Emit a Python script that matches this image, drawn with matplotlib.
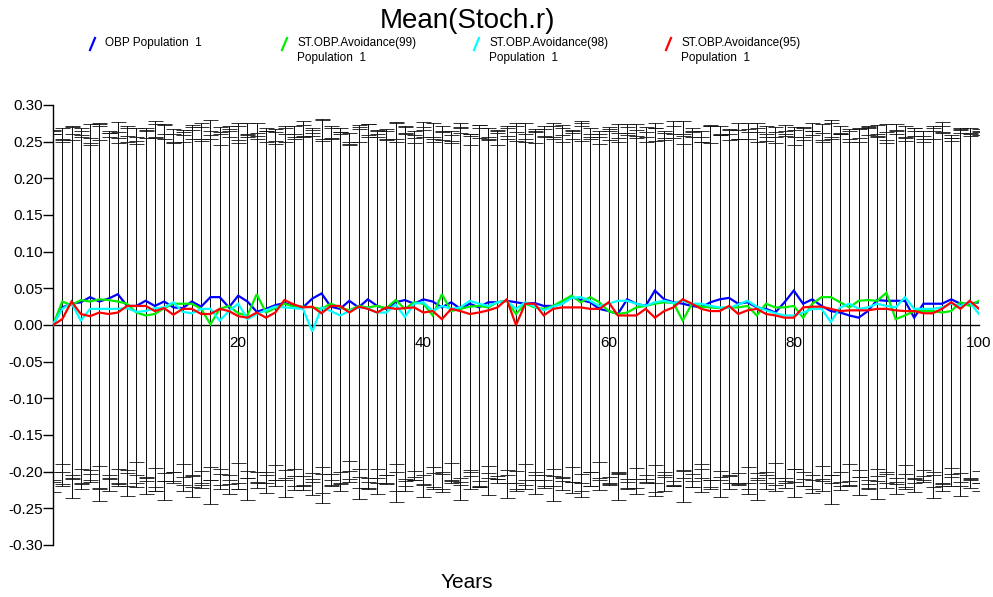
import numpy as np
import matplotlib
matplotlib.use("Agg")
import matplotlib.pyplot as plt
from matplotlib.lines import Line2D

plt.rcParams["font.family"] = ["Liberation Sans", "DejaVu Sans"]
plt.rcParams["axes.unicode_minus"] = False

years = np.arange(0, 101)

series_labels = ["OBP Population  1",
                 "ST.OBP.Avoidance(99)\nPopulation  1",
                 "ST.OBP.Avoidance(98)\nPopulation  1",
                 "ST.OBP.Avoidance(95)\nPopulation  1"]
series_colors = ["#0000ff", "#00ee00", "#00ffff", "#ff0000"]

# mean stochastic r per year
r_obp = [0.000, 0.024, 0.029, 0.031, 0.038, 0.032, 0.036, 0.042, 0.026, 0.026,
         0.033, 0.026, 0.032, 0.024, 0.023, 0.032, 0.025, 0.038, 0.038, 0.024,
         0.040, 0.032, 0.018, 0.022, 0.027, 0.030, 0.026, 0.024, 0.036, 0.043,
         0.025, 0.022, 0.033, 0.024, 0.035, 0.026, 0.022, 0.031, 0.034, 0.029,
         0.035, 0.032, 0.024, 0.031, 0.022, 0.029, 0.024, 0.031, 0.031, 0.033,
         0.031, 0.029, 0.030, 0.026, 0.026, 0.029, 0.038, 0.034, 0.031, 0.022,
         0.019, 0.015, 0.035, 0.029, 0.026, 0.047, 0.035, 0.031, 0.029, 0.026,
         0.024, 0.031, 0.035, 0.037, 0.029, 0.031, 0.024, 0.022, 0.017, 0.031,
         0.047, 0.029, 0.035, 0.026, 0.019, 0.017, 0.013, 0.010, 0.019, 0.034,
         0.033, 0.033, 0.033, 0.010, 0.029, 0.029, 0.029, 0.035, 0.029, 0.029,
         0.031]
r_av99 = [0.000, 0.032, 0.027, 0.034, 0.032, 0.035, 0.034, 0.032, 0.029, 0.017,
          0.013, 0.015, 0.023, 0.029, 0.029, 0.029, 0.022, 0.001, 0.022, 0.026,
          0.016, 0.013, 0.042, 0.017, 0.023, 0.029, 0.025, 0.025, 0.024, 0.022,
          0.029, 0.024, 0.020, 0.026, 0.024, 0.026, 0.023, 0.034, 0.022, 0.031,
          0.029, 0.013, 0.042, 0.019, 0.022, 0.025, 0.026, 0.024, 0.031, 0.033,
          0.015, 0.029, 0.024, 0.022, 0.026, 0.033, 0.040, 0.031, 0.038, 0.031,
          0.019, 0.015, 0.017, 0.024, 0.026, 0.029, 0.031, 0.030, 0.006, 0.029,
          0.025, 0.024, 0.023, 0.024, 0.024, 0.026, 0.013, 0.029, 0.024, 0.024,
          0.026, 0.010, 0.029, 0.038, 0.038, 0.031, 0.024, 0.033, 0.034, 0.033,
          0.044, 0.008, 0.013, 0.019, 0.019, 0.019, 0.017, 0.019, 0.031, 0.026,
          0.033]
r_av98 = [0.000, 0.022, 0.030, 0.006, 0.022, 0.022, 0.022, 0.022, 0.023, 0.018,
          0.019, 0.023, 0.024, 0.031, 0.018, 0.016, 0.022, 0.022, 0.006, 0.019,
          0.029, 0.008, 0.015, 0.020, 0.025, 0.024, 0.023, 0.022, -0.009, 0.024,
          0.019, 0.013, 0.019, 0.024, 0.023, 0.017, 0.017, 0.028, 0.011, 0.029,
          0.031, 0.019, 0.026, 0.022, 0.024, 0.033, 0.029, 0.026, 0.031, 0.033,
          0.022, 0.031, 0.025, 0.020, 0.025, 0.029, 0.037, 0.038, 0.033, 0.026,
          0.029, 0.033, 0.033, 0.029, 0.026, 0.031, 0.033, 0.030, 0.033, 0.029,
          0.029, 0.026, 0.024, 0.023, 0.028, 0.033, 0.025, 0.020, 0.016, 0.013,
          0.013, 0.017, 0.022, 0.022, 0.004, 0.024, 0.029, 0.022, 0.024, 0.029,
          0.026, 0.024, 0.038, 0.022, 0.022, 0.022, 0.024, 0.029, 0.026, 0.031,
          0.015]
r_av95 = [0.000, 0.008, 0.032, 0.015, 0.012, 0.017, 0.015, 0.017, 0.026, 0.026,
          0.026, 0.019, 0.023, 0.014, 0.022, 0.022, 0.015, 0.015, 0.022, 0.019,
          0.012, 0.010, 0.017, 0.010, 0.017, 0.034, 0.028, 0.024, 0.025, 0.016,
          0.026, 0.026, 0.017, 0.025, 0.022, 0.017, 0.024, 0.022, 0.023, 0.024,
          0.017, 0.019, 0.008, 0.022, 0.019, 0.015, 0.017, 0.020, 0.024, 0.035,
          0.000, 0.029, 0.029, 0.013, 0.022, 0.024, 0.024, 0.024, 0.022, 0.022,
          0.031, 0.013, 0.013, 0.013, 0.022, 0.010, 0.019, 0.024, 0.035, 0.029,
          0.022, 0.019, 0.019, 0.026, 0.015, 0.020, 0.022, 0.015, 0.013, 0.010,
          0.010, 0.024, 0.025, 0.025, 0.022, 0.019, 0.020, 0.020, 0.020, 0.022,
          0.022, 0.020, 0.019, 0.019, 0.016, 0.016, 0.022, 0.031, 0.022, 0.033,
          0.022]

# centre of the error bars (deterministic r) and the SD of r per year
r_det = [0.026, 0.030, 0.018, 0.024]

sd_obp = [0.240, 0.226, 0.234, 0.243, 0.229, 0.248, 0.236, 0.222, 0.245, 0.231,
          0.239, 0.252, 0.228, 0.241, 0.233, 0.247, 0.225, 0.238, 0.244, 0.230,
          0.249, 0.235, 0.227, 0.242, 0.237, 0.224, 0.246, 0.232, 0.240, 0.255,
          0.229, 0.243, 0.236, 0.223, 0.248, 0.234, 0.241, 0.227, 0.245, 0.238,
          0.231, 0.250, 0.226, 0.239, 0.244, 0.232, 0.247, 0.228, 0.236, 0.242,
          0.225, 0.249, 0.237, 0.230, 0.245, 0.233, 0.240, 0.252, 0.227, 0.238,
          0.244, 0.229, 0.236, 0.248, 0.231, 0.242, 0.226, 0.246, 0.235, 0.239,
          0.223, 0.247, 0.233, 0.241, 0.228, 0.250, 0.237, 0.230, 0.244, 0.234,
          0.240, 0.226, 0.249, 0.236, 0.231, 0.245, 0.239, 0.224, 0.243, 0.232,
          0.248, 0.235, 0.229, 0.242, 0.238, 0.227, 0.246, 0.233, 0.240, 0.236,
          0.241]
sd_av99 = [0.231, 0.219, 0.240, 0.226, 0.244, 0.222, 0.235, 0.247, 0.228, 0.217,
           0.238, 0.225, 0.243, 0.230, 0.220, 0.236, 0.246, 0.224, 0.233, 0.241,
           0.218, 0.229, 0.245, 0.234, 0.221, 0.239, 0.227, 0.248, 0.232, 0.223,
           0.242, 0.230, 0.216, 0.237, 0.244, 0.226, 0.235, 0.220, 0.240, 0.229,
           0.247, 0.224, 0.233, 0.218, 0.238, 0.231, 0.243, 0.222, 0.236, 0.228,
           0.245, 0.219, 0.234, 0.241, 0.227, 0.239, 0.223, 0.246, 0.230, 0.217,
           0.237, 0.232, 0.244, 0.225, 0.240, 0.221, 0.235, 0.248, 0.228, 0.233,
           0.220, 0.242, 0.229, 0.236, 0.245, 0.224, 0.238, 0.231, 0.218, 0.243,
           0.227, 0.240, 0.234, 0.222, 0.246, 0.230, 0.219, 0.237, 0.241, 0.226,
           0.233, 0.244, 0.221, 0.239, 0.228, 0.235, 0.247, 0.225, 0.232, 0.238,
           0.229]
sd_av98 = [0.246, 0.235, 0.254, 0.241, 0.230, 0.258, 0.244, 0.237, 0.251, 0.233,
           0.248, 0.239, 0.256, 0.231, 0.245, 0.252, 0.236, 0.262, 0.242, 0.249,
           0.234, 0.257, 0.240, 0.247, 0.229, 0.253, 0.243, 0.238, 0.250, 0.261,
           0.236, 0.245, 0.232, 0.255, 0.241, 0.248, 0.235, 0.259, 0.244, 0.230,
           0.252, 0.239, 0.246, 0.233, 0.257, 0.242, 0.237, 0.250, 0.228, 0.254,
           0.245, 0.236, 0.249, 0.240, 0.258, 0.231, 0.247, 0.253, 0.238, 0.243,
           0.234, 0.256, 0.241, 0.248, 0.232, 0.251, 0.244, 0.237, 0.260, 0.239,
           0.246, 0.230, 0.253, 0.242, 0.235, 0.249, 0.257, 0.233, 0.245, 0.240,
           0.252, 0.238, 0.247, 0.231, 0.262, 0.243, 0.236, 0.250, 0.241, 0.255,
           0.234, 0.248, 0.239, 0.246, 0.232, 0.254, 0.244, 0.237, 0.251, 0.240,
           0.245]
sd_av95 = [0.236, 0.244, 0.228, 0.240, 0.222, 0.248, 0.233, 0.239, 0.226, 0.245,
           0.231, 0.250, 0.237, 0.224, 0.242, 0.229, 0.246, 0.235, 0.221, 0.241,
           0.247, 0.232, 0.238, 0.225, 0.243, 0.236, 0.230, 0.249, 0.234, 0.227,
           0.244, 0.239, 0.223, 0.246, 0.233, 0.240, 0.228, 0.251, 0.237, 0.231,
           0.242, 0.226, 0.248, 0.235, 0.238, 0.222, 0.245, 0.232, 0.240, 0.229,
           0.247, 0.236, 0.224, 0.243, 0.230, 0.249, 0.238, 0.227, 0.244, 0.233,
           0.241, 0.225, 0.246, 0.234, 0.239, 0.252, 0.231, 0.237, 0.223, 0.245,
           0.232, 0.248, 0.236, 0.228, 0.242, 0.239, 0.226, 0.247, 0.233, 0.240,
           0.221, 0.244, 0.235, 0.250, 0.229, 0.238, 0.243, 0.231, 0.246, 0.237,
           0.224, 0.241, 0.248, 0.234, 0.230, 0.245, 0.239, 0.227, 0.243, 0.236,
           0.240]

y_ticks = [-0.30, -0.25, -0.20, -0.15, -0.10, -0.05, 0.00,
           0.05, 0.10, 0.15, 0.20, 0.25, 0.30]
x_ticks = [20, 40, 60, 80, 100]

means = [r_obp, r_av99, r_av98, r_av95]
sds = [sd_obp, sd_av99, sd_av98, sd_av95]

W, H = 993, 597
fig = plt.figure(figsize=(W / 100, H / 100), dpi=100)
ax = fig.add_axes([53 / W, 1 - 545 / H, (979 - 53) / W, (545 - 105) / H])

# error bars: one per year for every scenario, drawn as crisp 1 px lines
for centre, sd in zip(r_det, sds):
    cont = ax.errorbar(years, np.full(len(years), centre), yerr=sd, fmt="none",
                       ecolor="#111111", elinewidth=0.6, capsize=5.4,
                       capthick=0.6, zorder=1)
    for coll in cont.lines[2]:
        coll.set_antialiased(False)
    for cap in cont.lines[1]:
        cap.set_antialiased(False)

# mean trajectories
for m, c in zip(means, series_colors):
    ax.plot(years, m, color=c, lw=1.6, zorder=3, solid_joinstyle="miter")

ax.set_xlim(0, 100)
ax.set_ylim(-0.30, 0.30)
ax.spines["top"].set_visible(False)
ax.spines["right"].set_visible(False)
ax.spines["bottom"].set_position(("data", 0))
ax.spines["left"].set_linewidth(1.0)
ax.spines["bottom"].set_linewidth(1.0)

ax.set_yticks(y_ticks)
ax.set_yticklabels([f"{v:.2f}" for v in y_ticks])
ax.set_xticks(x_ticks)
ax.set_xticklabels([str(v) for v in x_ticks])
ax.tick_params(axis="y", direction="out", length=7.5, width=1, labelsize=11, pad=0)
ax.tick_params(axis="x", length=0, labelsize=11, pad=8)

fig.text(467 / W, 1 - 21 / H, "Mean(Stoch.r)", ha="center", va="center", fontsize=20)
fig.text(467 / W, 1 - 582 / H, "Years", ha="center", va="center", fontsize=15)

# legend: slanted colour stroke followed by the label
legend_x = [90, 282, 474, 666]
for x0, c, lab in zip(legend_x, series_colors, series_labels):
    fig.add_artist(Line2D([(x0) / W, (x0 + 5) / W], [1 - 50 / H, 1 - 38 / H],
                          transform=fig.transFigure, color=c, lw=1.6))
    fig.text((x0 + 15) / W, 1 - 37 / H, lab, ha="left", va="top",
             fontsize=8.5, linespacing=1.35)

fig.savefig("out.png", dpi=100)
